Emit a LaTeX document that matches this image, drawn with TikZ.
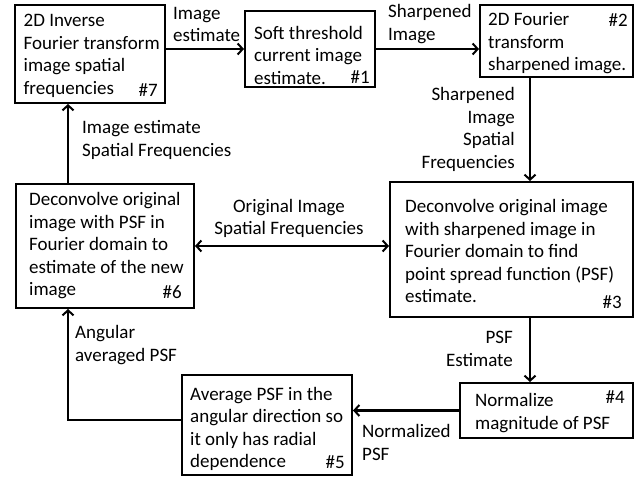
\documentclass[tikz,border=0pt]{standalone}
\usepackage{fontspec}
\setmainfont{Carlito}
\usetikzlibrary{arrows.meta}
\begin{document}
\begin{tikzpicture}[x=1pt,y=-1pt,
  box/.style={draw,line width=2pt,inner sep=0pt},
  txt/.style={inner sep=0pt,font=\fontsize{19}{22.5}\selectfont},
  arr/.style={line width=2.2pt,-{Straight Barb[length=5pt,width=11pt,line width=2pt]}},
  dbl/.style={line width=2.2pt,{Straight Barb[length=5pt,width=11pt,line width=2pt]}-{Straight Barb[length=5pt,width=11pt,line width=2pt]}},
  ln/.style={line width=2.2pt}]
\useasboundingbox (0,0) rectangle (639,478);
% boxes
\node[box,minimum width=150pt,minimum height=98pt] (b7) at (90,54) {};
\node[box,minimum width=130pt,minimum height=76pt] (b1) at (310,49) {};
\node[box,minimum width=153pt,minimum height=72pt] (b2) at (556.5,41) {};
\node[box,minimum width=243pt,minimum height=135pt] (b3) at (511.5,249.5) {};
\node[box,minimum width=178pt,minimum height=124pt] (b6) at (105,246) {};
\node[box,minimum width=170pt,minimum height=100pt] (b5) at (267,425) {};
\node[box,minimum width=173pt,minimum height=55pt] (b4) at (546.5,410.5) {};
% box texts
\node[txt,align=left,anchor=west] (t7) at (23.5,56) {2D Inverse\\Fourier transform\\image spatial\\frequencies};
\node[txt,anchor=east] (n7) at (158,90) {\#7};
\node[txt,align=left,anchor=west] (t1) at (254,55) {Soft threshold\\current image\\estimate.};
\node[txt,anchor=east] (n1) at (370,77) {\#1};
\node[txt,align=left,anchor=west] (t2) at (488,43.5) {2D Fourier\\transform\\sharpened image.};
\node[txt,anchor=east] (n2) at (628,20) {\#2};
\node[txt,align=left,anchor=west] (t3) at (405,251) {Deconvolve original image\\with sharpened image in\\Fourier domain to find\\point spread function (PSF)\\estimate.};
\node[txt,anchor=east] (n3) at (622,302) {\#3};
\node[txt,align=left,anchor=west] (t6) at (29,246) {Deconvolve original\\image with PSF in\\Fourier domain to\\estimate of the new\\image};
\node[txt,anchor=east] (n6) at (182,292) {\#6};
\node[txt,align=left,anchor=west] (t5) at (190,429) {Average PSF in the\\angular direction so\\it only has radial\\dependence};
\node[txt,anchor=east] (n5) at (345,462) {\#5};
\node[txt,align=left,anchor=west] (t4) at (475,413) {Normalize\\magnitude of PSF};
\node[txt,anchor=east] (n4) at (625,397) {\#4};
% labels
\node[txt,align=left,anchor=west] (l71) at (173,24.5) {Image\\estimate};
\node[txt,align=left,anchor=west] (l12) at (388,24) {Sharpened\\Image};
\node[txt,align=right,anchor=east] (l23) at (515,129.5) {Sharpened\\Image\\Spatial\\Frequencies};
\node[txt,align=left,anchor=west] (l67) at (82,140) {Image estimate\\Spatial Frequencies};
\node[txt,align=center] (l36) at (289,218.5) {Original Image\\Spatial Frequencies};
\node[txt,align=left,anchor=west] (l56) at (75,345) {Angular\\averaged PSF};
\node[txt,align=right,anchor=east] (l34) at (513,349) {PSF\\Estimate};
\node[txt,align=left,anchor=west] (l45) at (362,442.5) {Normalized\\PSF};
% connectors
\coordinate (k56) at (68,420);
\draw[arr] (b7.east |- b1.west) -- (b1.west);
\draw[arr] (b1.east) -- (b2.west |- b1.east);
\draw[arr] ([xshift=-26.5pt]b2.south) -- ([xshift=-26.5pt]b2.south |- b3.north);
\draw[arr] ([xshift=18.5pt]b3.south) -- ([xshift=18.5pt]b3.south |- b4.north);
\draw[arr] (b4.west) -- (b5.east |- b4.west);
\draw[arr] (b5.west |- k56) -- (k56) -- (k56 |- b6.south);
\draw[arr] (k56 |- b6.north) -- (k56 |- b7.south);
\draw[dbl] (b6.east) -- (b3.west |- b6.east);
\end{tikzpicture}
\end{document}
